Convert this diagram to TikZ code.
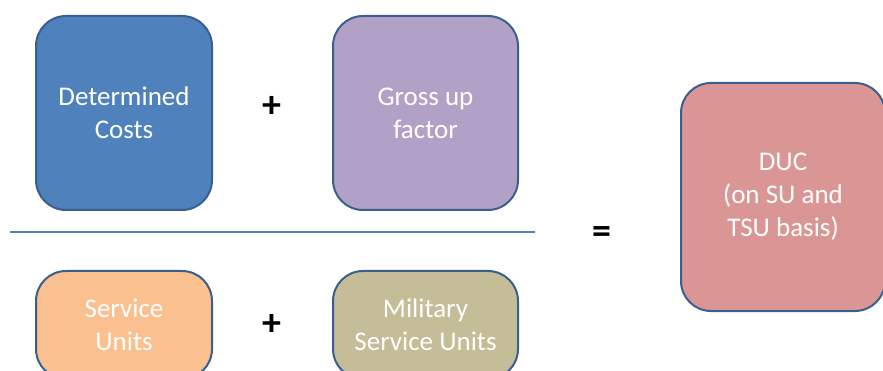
\documentclass[tikz,border=0pt]{standalone}
\usepackage{fontspec}
\setmainfont{Carlito}
\definecolor{costblue}{HTML}{4F81BD}
\definecolor{grosslilac}{HTML}{B2A1C7}
\definecolor{suorange}{HTML}{FAC090}
\definecolor{milkhaki}{HTML}{C4BD97}
\definecolor{ducrose}{HTML}{D99694}
\definecolor{boxedge}{HTML}{3A5F8C}
\usetikzlibrary{positioning}

\tikzset{
  box/.style={draw=boxedge,line width=2pt,rounded corners=30pt,inner sep=0pt,
    text=white,align=center,font=\fontsize{27}{33}\selectfont},
  sign/.style={font=\bfseries\fontsize{38}{40}\selectfont,text=black,inner sep=0pt},
  fracline/.style={draw=costblue,line width=2.5pt}
}

\begin{document}
\begin{tikzpicture}[x=1pt,y=-1pt]
  \useasboundingbox (0,0) rectangle (883,371);
  \begin{scope}
    \clip (0,0) rectangle (883,371);

    % numerator
    \node[box,fill=costblue,minimum width=176pt,minimum height=194pt] (costs) at (124,113) {Determined\\Costs};
    \node[box,fill=grosslilac,minimum width=185pt,minimum height=194pt] (gross) at (425.5,113) {Gross up\\factor};
    \node[sign] (plustop) at (272,107) {+};

    % denominator
    \node[box,fill=suorange,minimum width=176pt,minimum height=108pt] (su) at (124,325) {Service\\Units};
    \node[box,fill=milkhaki,minimum width=185pt,minimum height=108pt] (msu) at (425.5,325) {Military\\Service Units};
    \node[sign] (plusbot) at (272,325) {+};

    % fraction bar
    \coordinate (barl) at (10,232);
    \coordinate (barr) at (535,232);
    \draw[fracline] (barl) -- (barr);

    % result
    \node[sign] (equals) at (602,235) {=};
    \node[box,fill=ducrose,minimum width=204pt,minimum height=228pt] (duc) at (783,197) {DUC\\(on SU and\\TSU basis)};
  \end{scope}
\end{tikzpicture}
\end{document}
